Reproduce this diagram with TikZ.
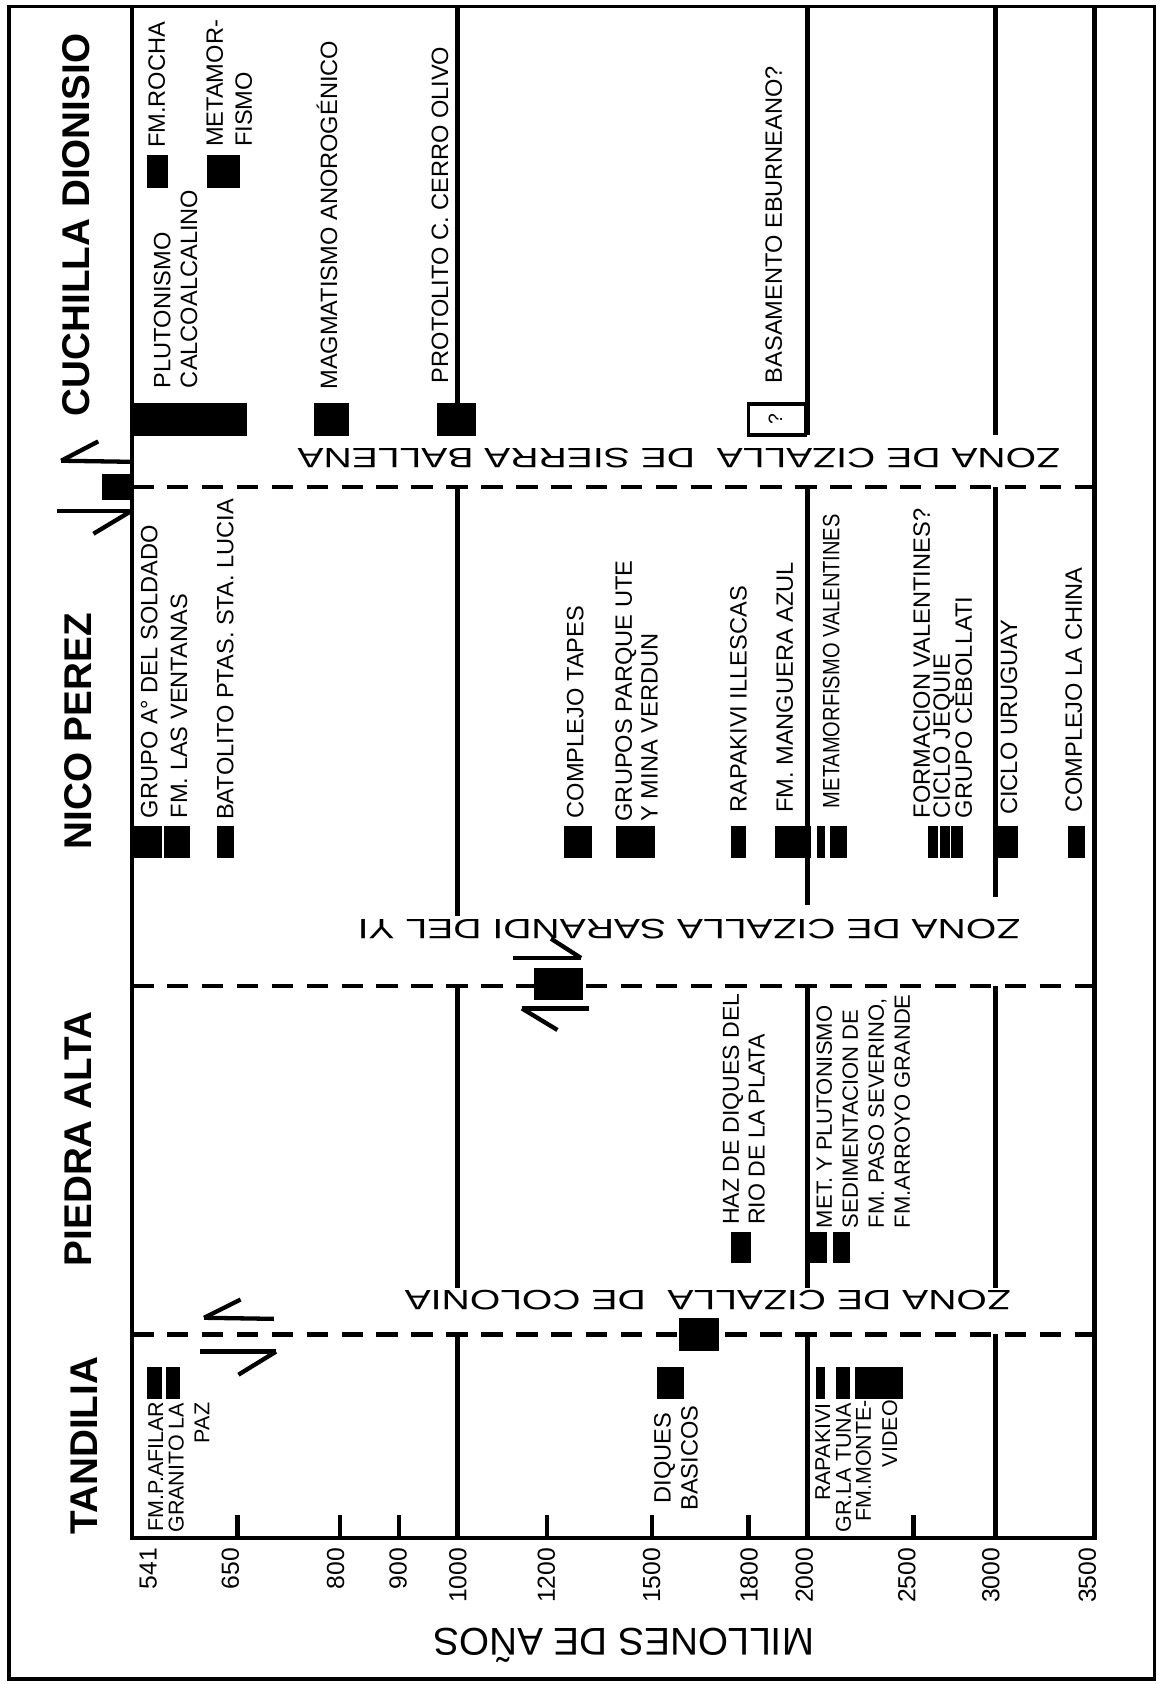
\documentclass[tikz,border=0pt]{standalone}
\usepackage{fontspec}
\setmainfont{Liberation Sans}
\usepackage{graphicx}

\begin{document}
\begin{tikzpicture}[x=1pt,y=-1pt,
  chart/.style={line width=4pt},
  shear/.style={line width=4pt,dash pattern=on 20pt off 12.5pt},
  slip/.style={line width=4pt},
  lbl/.style={rotate=90,anchor=north west,inner sep=0pt,font=\fontsize{22}{25}\selectfont},
  lblr/.style={rotate=90,anchor=north east,inner sep=0pt,font=\fontsize{20}{19.5}\selectfont},
  region/.style={rotate=90,inner sep=0pt,font=\fontsize{36}{40}\selectfont\bfseries},
  zona/.style={rotate=180,xscale=1.4,anchor=base,inner sep=0pt,font=\fontsize{26}{30}\selectfont},
  age/.style={rotate=90,anchor=east,inner sep=0pt,font=\fontsize{23}{26}\selectfont}]
  \useasboundingbox (0,0) rectangle (1080,1568);
  \draw[line width=3.5pt] (8.5,6) rectangle (1075,1563);

  % frame of the chart and age boundaries
  \draw[chart] (123,6) -- (123,1432) -- (1019,1432) -- (1019,6);
  \draw[chart] (426,6) -- (426,375.5);
  \draw[chart] (426,453.5) -- (426,853);
  \draw[chart] (426,918) -- (426,1199);
  \draw[chart] (426,1242.5) -- (426,1432);
  \draw[chart] (752,6) -- (752,405);
  \draw[chart] (752,453.5) -- (752,843);
  \draw[chart] (752,918) -- (752,1199);
  \draw[chart] (752,1242.5) -- (752,1432);
  \draw[chart] (927,6) -- (927,405);
  \draw[chart] (927,453.5) -- (927,835);
  \draw[chart] (927,918) -- (927,1199);
  \draw[chart] (927,1242.5) -- (927,1432);
  \foreach \x in {221,316.5,371.6,509,607,697,850.6}
    \draw[chart] (\x,1432) -- (\x,1411);

  \draw[shear] (123,453.5) -- (1019,453.5);
  \draw[shear] (123,918) -- (1019,918);
  \draw[shear] (123,1242.5) -- (1019,1242.5);

  % age bars
  \foreach \a/\b in {137/156,193/223.5}
    \fill (\a,144.3) rectangle (\b,174.7);
  \foreach \a/\b in {123/230.4,292/325,407/443}
    \fill (\a,375.5) rectangle (\b,406);
  \foreach \a/\b in {123/150.7,152.4/176.9,202.4/218.3,524.8/551,573.4/610,680.3/694.2,721.7/754.8,760.7/768.6,772.8/788.3,864.1/873.8,875.2/884.1,885.5/896.9,925.5/947.9,994.4/1010}
    \fill (\a,769) rectangle (\b,799);
  \foreach \a/\b in {680.7/699.6,753.1/770.3,775.6/791.7}
    \fill (\a,1146.7) rectangle (\b,1176.2);
  \foreach \a/\b in {137/150.7,154.1/167.9,611.4/637.2,760/768.3,778/791,796.2/841}
    \fill (\a,1272.4) rectangle (\b,1302.5);
  \fill (95,441) rectangle (124,465.5);
  \fill (497,901) rectangle (543,931);
  \fill (632,1227) rectangle (669,1258);
  \draw[line width=3.5pt,fill=white] (697,376) rectangle (750,405);
  \node[rotate=90,font=\fontsize{18}{20}\selectfont] (duda) at (722,390.5) {?};

  % shear sense
  \draw[slip] (57,429) -- (122,430);
  \draw[slip] (57,429) -- (91.5,411);
  \draw[slip] (53,476) -- (122,476);
  \draw[slip] (122,476) -- (87,497);
  \draw[slip] (478,892) -- (541,892);
  \draw[slip] (541,892) -- (513,874);
  \draw[slip] (486,939) -- (548,939);
  \draw[slip] (486,939) -- (519,959);
  \draw[slip] (190,1227) -- (255,1228);
  \draw[slip] (190,1227) -- (224,1210);
  \draw[slip] (186,1258.5) -- (257,1258.5);
  \draw[slip] (257,1258.5) -- (222,1280);

  % terrenos
  \node[region] (cuchilla) at (70.7,209.5) {CUCHILLA DIONISIO};
  \node[region] (nico) at (72.4,681) {NICO PEREZ};
  \node[region] (piedra) at (72.4,1060.6) {PIEDRA ALTA};
  \node[region] (tandilia) at (78.5,1346) {TANDILIA};

  \node[zona] (ballena) at (632,418) {ZONA DE CIZALLA\ \ DE SIERRA BALLENA};
  \node[zona] (sarandi) at (641.5,856) {ZONA DE CIZALLA SARANDI DEL YI};
  \node[zona] (colonia) at (659,1202) {ZONA DE CIZALLA\ \ DE COLONIA};

  \node[lbl] (rocha) at (138,138) {FM.ROCHA};
  \node[lbl,align=left,font=\fontsize{22}{27}\selectfont] (metam) at (192,137) {METAMOR-\\FISMO};
  \node[lbl,align=left] (pluton) at (143,361.5) {PLUTONISMO\\CALCOALCALINO};
  \node[lbl,text height=15.8pt] (magma) at (298,363) {MAGMATISMO ANOROGÉNICO};
  \node[lbl] (protolito) at (401.7,357) {PROTOLITO C. CERRO OLIVO};
  \node[lbl] (eburneano) at (712.4,357) {BASAMENTO EBURNEANO?};

  \node[lbl] (soldado) at (131,762) {GRUPO A° DEL SOLDADO};
  \node[lbl] (ventanas) at (158.6,762) {FM. LAS VENTANAS};
  \node[lbl] (batolito) at (201.7,763.5) {BATOLITO PTAS. STA. LUCIA};
  \node[lbl] (tapes) at (527.6,762) {COMPLEJO TAPES};
  \node[lbl,align=left,font=\fontsize{22}{24}\selectfont] (parque) at (572.8,765) {GRUPOS PARQUE UTE\\Y MINA VERDUN};
  \node[lbl] (illescas) at (679.7,757) {RAPAKIVI ILLESCAS};
  \node[lbl] (manguera) at (722.8,757) {FM. MANGUERA AZUL};
  \node[lbl] (valentines) at (765.9,752.6) {\scalebox{0.85}[1]{METAMORFISMO VALENTINES}};
  \node[lbl,align=left,font=\fontsize{22}{18.5}\selectfont] (jequie) at (850.3,762) {FORMACION VALENTINES?\\CICLO JEQUIE\\GRUPO CEBOLLATI};
  \node[lbl] (uruguay) at (931.5,758.8) {CICLO URUGUAY};
  \node[lbl] (china) at (991.7,757) {COMPLEJO LA CHINA};

  \node[lbl,align=left,font=\fontsize{21.5}{24}\selectfont] (haz) at (672.8,1140.5) {HAZ DE DIQUES DEL\\RIO DE LA PLATA};
  \node[lbl,align=left,font=\fontsize{20.5}{24.2}\selectfont] (severino) at (760,1143.6) {MET. Y PLUTONISMO\\SEDIMENTACION DE\\FM. PASO SEVERINO,\\FM.ARROYO GRANDE};

  \node[lblr] (afilar) at (137.9,1305) {FM.P.AFILAR};
  \node[lblr,align=right,font=\fontsize{20}{24}\selectfont] (lapaz) at (156.9,1306) {GRANITO LA\\PAZ};
  \node[lbl,anchor=north,align=center] (diques) at (608.9,1357.7) {DIQUES\\BASICOS};
  \node[lblr] (rapakivi) at (759,1306.5) {RAPAKIVI};
  \node[lblr] (tuna) at (778,1306.5) {GR.LA TUNA};
  \node[lblr,align=right,font=\fontsize{20}{24.3}\selectfont] (montevideo) at (796.8,1303.5) {FM.MONTE-\\VIDEO};

  % escala
  \foreach \x/\t in {138/541,214.5/650,312.5/800,370.7/900,426.4/1000,508.7/1200,606.8/1500,697.6/1800,749/2000,844.5/2500,922.7/3000,1012.5/3500}
    \node[age] (t\t) at (\x,1441) {\t};
  \node[rotate=180,anchor=base,inner sep=0pt,font=\fontsize{36}{40}\selectfont] (millones) at (581,1516) {MILLONES DE AÑOS};
\end{tikzpicture}
\end{document}
